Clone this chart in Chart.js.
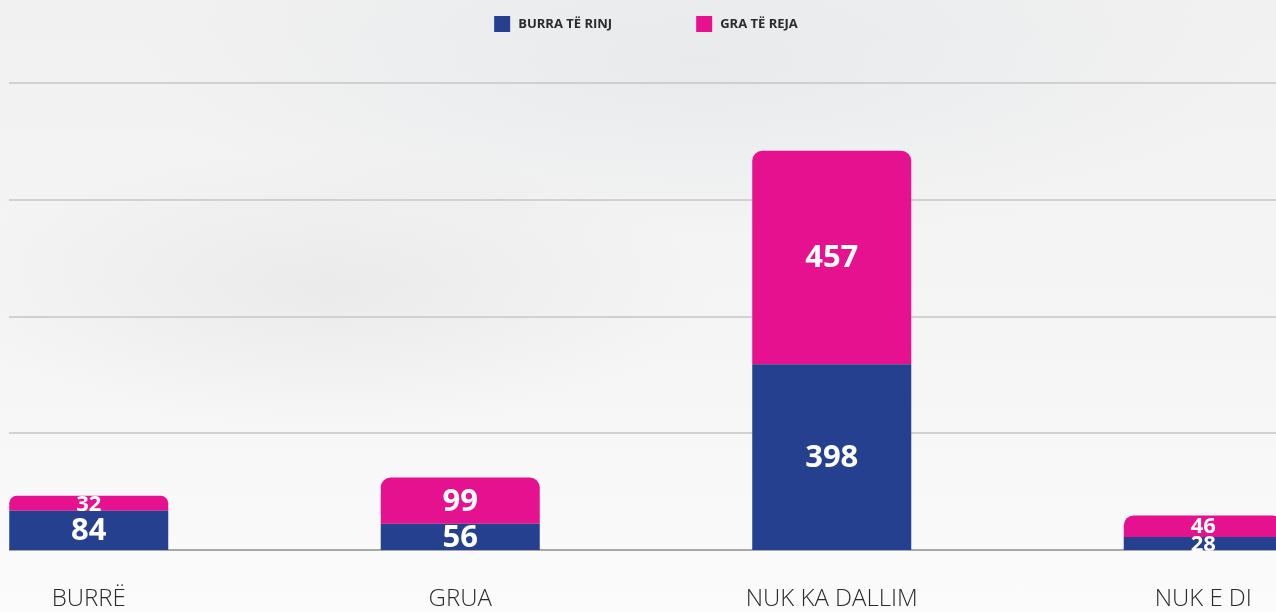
<!DOCTYPE html>
<html>
<head>
<meta charset="utf-8">
<script src="https://cdn.jsdelivr.net/npm/chart.js@4/dist/chart.umd.min.js"></script>
<style>
  html, body {
    margin: 0;
    padding: 0;
    width: 1276px;
    height: 612px;
    overflow: hidden;
    background:
      radial-gradient(ellipse 380px 140px at 330px 290px, rgba(200,200,200,0.22), rgba(200,200,200,0) 100%),
      radial-gradient(ellipse 560px 180px at 700px 60px, rgba(215,220,226,0.35), rgba(215,220,226,0) 100%),
      linear-gradient(#f1f1f1, #f5f5f5 55%, #fbfbfb);
    font-family: 'Open Sans', sans-serif;
  }
  #wrap {
    position: absolute;
    left: -97px;
    top: 0;
    width: 1486px;
    height: 612px;
  }
</style>
</head>
<body>
<div id="wrap"><canvas id="chart"></canvas></div>
<script>
'use strict';

var categories = ['BURRË', 'GRUA', 'NUK KA DALLIM', 'NUK E DI'];
var youngMen = [84, 56, 398, 28];
var youngWomen = [32, 99, 457, 46];
var seriesNames = ['BURRA TË RINJ', 'GRA TË REJA'];
var gridValues = [0, 250, 500, 750, 1000];

var blue = '#25408f';
var pink = '#e6118f';

// horizontal grid lines, starting a little in from the left edge
var gridPlugin = {
  id: 'gridLines',
  beforeDatasetsDraw: function(chart) {
    var ctx = chart.ctx;
    var y = chart.scales.y;
    var left = 97 + 9;
    var right = chart.chartArea.right;
    ctx.save();
    gridValues.forEach(function(v) {
      var py = Math.round(y.getPixelForValue(v));
      ctx.beginPath();
      ctx.strokeStyle = v === 0 ? '#8c8c8c' : '#c6c6c6';
      ctx.lineWidth = 1.5;
      ctx.moveTo(left, py);
      ctx.lineTo(right, py);
      ctx.stroke();
    });
    ctx.restore();
  }
};

// white value labels in the middle of each segment
var valuePlugin = {
  id: 'values',
  afterDatasetsDraw: function(chart) {
    var ctx = chart.ctx;
    ctx.save();
    ctx.fillStyle = '#ffffff';
    ctx.textAlign = 'center';
    ctx.textBaseline = 'middle';
    chart.data.datasets.forEach(function(ds, i) {
      chart.getDatasetMeta(i).data.forEach(function(bar, j) {
        var p = bar.getProps(['x', 'y', 'base'], true);
        var h = Math.abs(p.base - p.y);
        var size = h < 24 ? 22 : 31;
        ctx.font = 'bold ' + size + 'px "Open Sans"';
        ctx.fillText(ds.data[j], p.x, (p.y + p.base) / 2 + 1);
      });
    });
    ctx.restore();
  }
};

// legend drawn by hand so the items can sit far apart
var legendPlugin = {
  id: 'topLegend',
  afterDraw: function(chart) {
    var ctx = chart.ctx;
    var box = 16, gap = 8, spacing = 84;
    ctx.save();
    ctx.font = 'bold 13px "Open Sans"';
    var widths = chart.data.datasets.map(function(ds) {
      return box + gap + ctx.measureText(ds.label).width;
    });
    var total = widths.reduce(function(a, b) { return a + b; }, 0) + spacing * (widths.length - 1);
    var x = chart.width / 2 - total / 2;
    ctx.textBaseline = 'middle';
    ctx.textAlign = 'left';
    chart.data.datasets.forEach(function(ds, i) {
      ctx.fillStyle = ds.backgroundColor;
      ctx.fillRect(x, 16, box, box);
      ctx.fillStyle = '#2b2b2b';
      ctx.fillText(ds.label, x + box + gap, 24);
      x += widths[i] + spacing;
    });
    ctx.restore();
  }
};

var ctx = document.getElementById('chart').getContext('2d');
var chart = new Chart(ctx, {
  type: 'bar',
  data: {
    labels: categories,
    datasets: [
      {
        label: seriesNames[0],
        data: youngMen,
        backgroundColor: blue,
        borderRadius: 0,
        borderSkipped: false
      },
      {
        label: seriesNames[1],
        data: youngWomen,
        backgroundColor: pink,
        borderRadius: {topLeft: 10, topRight: 10, bottomLeft: 0, bottomRight: 0},
        borderSkipped: false
      }
    ]
  },
  options: {
    responsive: true,
    maintainAspectRatio: false,
    animation: false,
    events: [],
    layout: {padding: {top: 83, bottom: 0, left: 0, right: 0}},
    datasets: {
      bar: {barPercentage: 0.428, categoryPercentage: 1}
    },
    plugins: {
      legend: {display: false},
      tooltip: {enabled: false}
    },
    scales: {
      x: {
        stacked: true,
        offset: true,
        grid: {display: false, drawTicks: false},
        border: {display: false},
        afterFit: function(scale) { scale.height = 62; },
        ticks: {
          padding: 35,
          maxRotation: 0,
          color: '#2a2a2a',
          font: {family: 'Open Sans', size: 24, weight: '300'}
        }
      },
      y: {
        stacked: true,
        display: false,
        min: 0,
        max: 1000
      }
    }
  },
  plugins: [gridPlugin, valuePlugin, legendPlugin]
});
</script>
</body>
</html>
